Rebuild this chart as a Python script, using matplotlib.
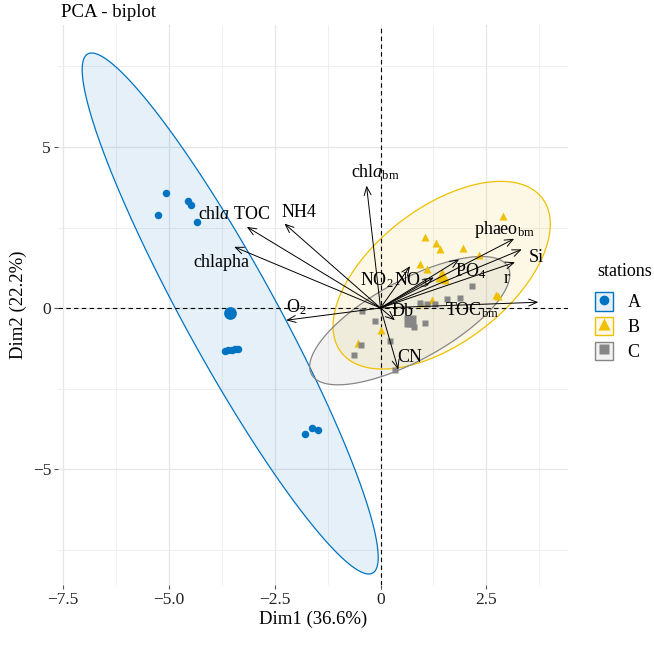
import numpy as np
import matplotlib
matplotlib.use('Agg')
import matplotlib.pyplot as plt
from matplotlib.patches import Polygon, Patch
from matplotlib.lines import Line2D

plt.rcParams['font.family'] = ['Liberation Serif', 'DejaVu Serif']
plt.rcParams['mathtext.fontset'] = 'custom'
plt.rcParams['mathtext.rm'] = 'Liberation Serif'
plt.rcParams['mathtext.it'] = 'Liberation Serif:italic'
plt.rcParams['mathtext.bf'] = 'Liberation Serif:bold'

# ---------------- data ----------------
stations = ['A', 'B', 'C']
colors = {'A': '#0073C2', 'B': '#EFC000', 'C': '#868686'}
markers = {'A': 'o', 'B': '^', 'C': 's'}

# individual coordinates (some points overlap each other / the group-mean marker)
A_x = [-5.08, -4.54, -4.49, -5.25, -4.33, -3.68, -3.60, -3.52, -3.45, -3.37, -1.78, -1.62, -1.48]
A_y = [3.57, 3.31, 3.20, 2.90, 2.68, -1.32, -1.30, -1.29, -1.27, -1.26, -3.90, -3.74, -3.80]

B_x = [2.90, 1.05, 1.32, 1.41, 1.95, 2.33, 0.93, 1.10, 1.45, 1.52, 2.74, 2.78, 1.22, 0.96, 0.01, -0.53]
B_y = [2.87, 2.22, 2.03, 1.82, 1.86, 1.65, 1.38, 1.22, 0.96, 0.88, 0.39, 0.37, 0.25, 0.17, -0.67, -1.10]

C_x = [-0.44, -0.13, 1.05, 0.93, 1.10, 1.29, 1.57, 1.89, 2.17, -0.47, -0.62, 0.34, 0.22, 0.69, 0.79]
C_y = [-0.08, -0.39, -0.48, 0.17, 0.11, 0.11, 0.28, 0.31, 0.68, -1.14, -1.45, -1.91, -1.01, -0.50, -0.59]

var_labels = [r'chl$a_{\mathrm{bm}}$', 'NH4', r'chl$a$ TOC', 'chlapha', r'O$_2$', 'Db', 'CN',
              r'TOC$_{\mathrm{bm}}$', r'phaeo$_{\mathrm{bm}}$', 'Si', 'r', r'PO$_4$',
              r'NO$_3$', r'NO$_2$']
var_x = [-0.33, -2.27, -3.16, -3.46, -2.23, 0.34, 0.42, 3.73, 3.16, 3.34, 3.18, 1.86, 0.70, 1.26]
var_y = [3.80, 2.62, 2.52, 1.90, -0.38, -0.38, -1.91, 0.18, 2.15, 1.82, 1.42, 1.51, 1.30, 0.95]
# repelled label positions
lab_x = [-0.13, -1.93, -3.46, -3.75, -2.00, 0.51, 0.70, 2.16, 2.94, 3.68, 2.99, 2.12, 0.72, -0.08]
lab_y = [4.21, 2.97, 2.90, 1.41, 0.02, -0.10, -1.54, -0.08, 2.44, 1.57, 0.92, 1.13, 0.85, 0.85]

x_ticks = [-7.5, -5.0, -2.5, 0, 2.5]
x_ticklabels = ['\u22127.5', '\u22125.0', '\u22122.5', '0', '2.5']
y_ticks = [-5, 0, 5]
y_ticklabels = ['\u22125', '0', '5']

groups = {'A': (A_x, A_y), 'B': (B_x, B_y), 'C': (C_x, C_y)}
ELLIPSE_LEVEL = 0.95


def ellipse_pts(x, y, level, npts=200):
    """Normal-theory concentration ellipse (as ggplot2 stat_ellipse type='norm')."""
    X = np.column_stack([x, y]).astype(float)
    n = len(X)
    d = n - 1
    qf = d / 2.0 * ((1 - level) ** (-2.0 / d) - 1)   # F(2, d) quantile
    radius = np.sqrt(2 * qf)
    cov = np.cov(X.T)
    L = np.linalg.cholesky(cov)
    t = np.linspace(0, 2 * np.pi, npts)
    circ = np.vstack([np.cos(t), np.sin(t)])
    pts = radius * (L @ circ)
    c = X.mean(axis=0)
    return np.column_stack([pts[0] + c[0], pts[1] + c[1]])


fig = plt.figure(figsize=(6.54, 6.55), dpi=100)
P_L, P_R, P_T, P_B = 58, 568, 25, 585
ax = fig.add_axes([P_L / 654, 1 - P_B / 655, (P_R - P_L) / 654, (P_B - P_T) / 655])

ax.set_xlim((P_L - 380.5) / 42.3, (P_R - 380.5) / 42.3)
ax.set_ylim((308.0 - P_B) / 32.2, (308.0 - P_T) / 32.2)

# grid
for v in [-6.25, -3.75, -1.25, 1.25, 3.75]:
    ax.axvline(v, color='#EFEFEF', lw=0.7, zorder=0)
for v in [-7.5, -2.5, 2.5, 7.5]:
    ax.axhline(v, color='#EFEFEF', lw=0.7, zorder=0)
for v in x_ticks:
    ax.axvline(v, color='#E6E6E6', lw=0.9, zorder=0)
for v in y_ticks:
    ax.axhline(v, color='#E6E6E6', lw=0.9, zorder=0)

# ellipses
for g in stations:
    gx, gy = groups[g]
    pts = ellipse_pts(gx, gy, ELLIPSE_LEVEL)
    ax.add_patch(Polygon(pts, closed=True, facecolor=colors[g], alpha=0.1, edgecolor='none', zorder=1))
    ax.add_patch(Polygon(pts, closed=True, facecolor='none', edgecolor=colors[g], lw=0.9, zorder=1.5))

# dashed axes
ax.axhline(0, color='black', lw=0.8, ls=(0, (4, 3)), zorder=2)
ax.axvline(0, color='black', lw=0.8, ls=(0, (4, 3)), zorder=2)

# points
msz = {'A': 5.4, 'B': 6.0, 'C': 5.0}
for g in stations:
    gx, gy = groups[g]
    ax.plot(gx, gy, ls='', marker=markers[g], color=colors[g], ms=msz[g], mec='none', zorder=3)
    ax.plot([np.mean(gx)], [np.mean(gy)], ls='', marker=markers[g], color=colors[g],
            ms=msz[g] * 1.7, mec='none', zorder=3)

# variable arrows
for vx, vy in zip(var_x, var_y):
    ax.annotate('', xy=(vx, vy), xytext=(0, 0),
                arrowprops=dict(arrowstyle='->,head_length=0.6,head_width=0.25',
                                color='black', lw=0.7, shrinkA=0, shrinkB=0,
                                mutation_scale=10), zorder=4)
for lab, lx, ly in zip(var_labels, lab_x, lab_y):
    ax.text(lx, ly, lab, ha='center', va='center', fontsize=13, color='black', zorder=5)

# axes style
for s in ax.spines.values():
    s.set_visible(False)
ax.set_xticks(x_ticks)
ax.set_xticklabels(x_ticklabels)
ax.set_yticks(y_ticks)
ax.set_yticklabels(y_ticklabels)
ax.tick_params(axis='both', length=3, width=0.8, color='#555555', labelsize=12.5,
               labelcolor='#222222', pad=2)
ax.set_xlabel('Dim1 (36.6%)', fontsize=13.5, labelpad=2)
ax.set_ylabel('Dim2 (22.2%)', fontsize=13.5, labelpad=4)

fig.text(61 / 654, 1 - 17 / 655, 'PCA - biplot', fontsize=13.5, ha='left', va='baseline')

# legend
fig.text(597 / 654, 1 - 272 / 655, 'stations', fontsize=13, ha='left', va='center')
handles = []
for g in stations:
    handles.append((Patch(facecolor=matplotlib.colors.to_rgba(colors[g], 0.1),
                          edgecolor=colors[g], lw=1.0),
                    Line2D([], [], ls='', marker=markers[g], color=colors[g],
                           ms={'A': 7, 'B': 8, 'C': 6.5}[g], mec='none')))
leg = fig.legend(handles, stations, loc='upper left',
                 bbox_to_anchor=(595 / 654, 1 - 292 / 655), frameon=False,
                 fontsize=13, handlelength=1.0, handleheight=1.2,
                 handletextpad=0.8, labelspacing=0.3, borderaxespad=0, borderpad=0)

fig.savefig('out.png', dpi=100)
